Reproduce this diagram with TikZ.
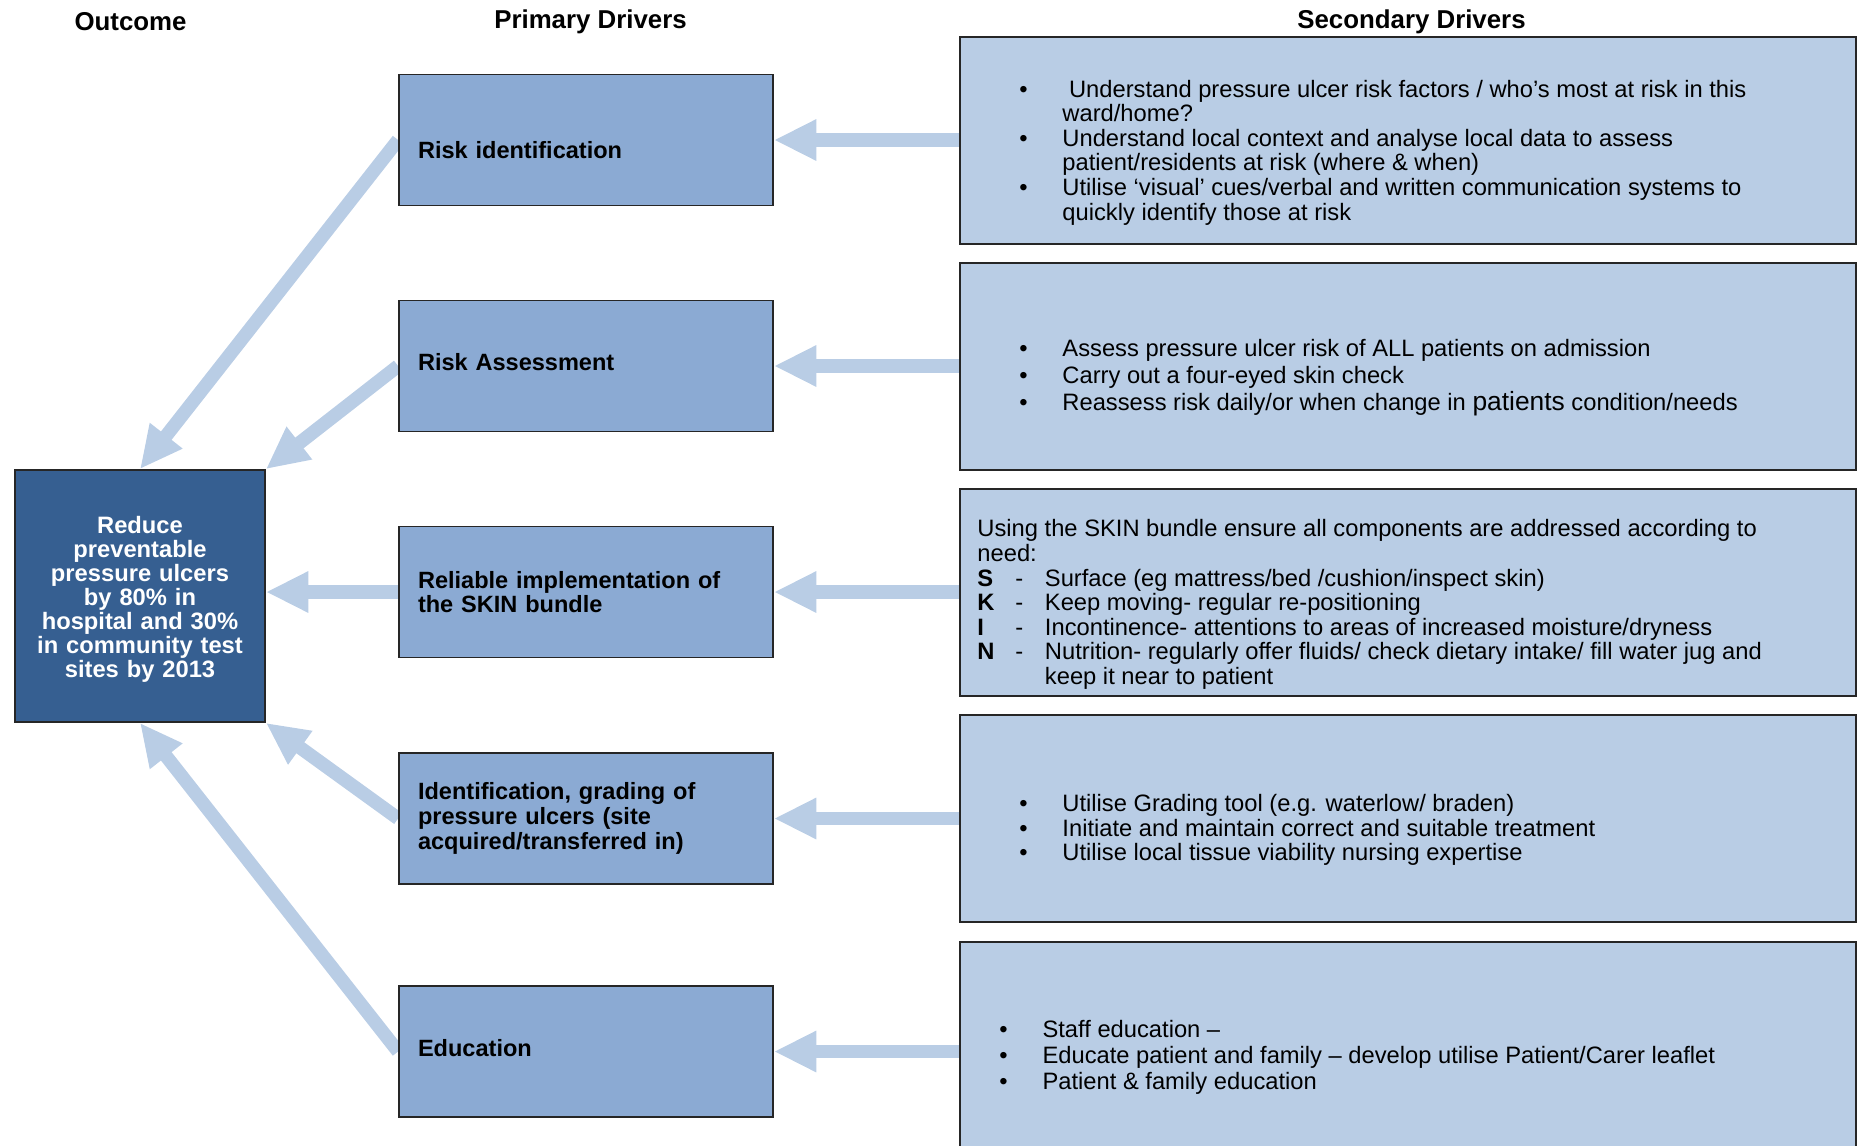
\documentclass[tikz,border=0pt]{standalone}
\usepackage{fontspec}
\setmainfont{Liberation Sans}
\usetikzlibrary{arrows.meta,backgrounds}

\definecolor{outcomeblue}{RGB}{54,95,145}
\definecolor{primaryblue}{RGB}{139,170,211}
\definecolor{secondaryblue}{RGB}{185,205,229}
\definecolor{arrowblue}{RGB}{185,205,229}

\newcommand{\bulitem}[1][0.86cm]{\makebox[#1][l]{\textbullet}}
\newcommand{\bulgap}[1][0.86cm]{\hspace*{#1}}
\newcommand{\skinrow}[1]{\makebox[0.76cm][l]{\textbf{#1}}\makebox[0.59cm][l]{-}}
\newcommand{\lowered}[2]{\raisebox{#1}[\height][\depth]{#2}}

\tikzset{
  header/.style={inner sep=0pt, font=\fontsize{14.7}{16}\selectfont\bfseries},
  outcomebox/.style={draw=black!85, line width=1pt, fill=outcomeblue, text=white,
    minimum width=5cm, minimum height=5.04cm, text width=4.6cm, inner sep=0pt,
    align=center, font=\fontsize{13.5}{13.7}\selectfont\bfseries},
  primarybox/.style={draw=black!85, line width=1pt, fill=primaryblue,
    minimum height=2.62cm, text width=6.72cm, inner xsep=0.38cm, inner ysep=0pt,
    align=left, font=\fontsize{13.4}{14}\selectfont\bfseries},
  secondarybox/.style={draw=black!85, line width=1pt, fill=secondaryblue,
    minimum width=17.92cm, minimum height=4.14cm, inner sep=0pt},
  secondarytext/.style={anchor=west, inner sep=0pt, align=left,
    font=\fontsize{13.5}{14}\selectfont},
  bigarrow/.style={draw=arrowblue, line width=0.27cm,
    -{Triangle[length=0.85cm, width=0.77cm]}}
}

\begin{document}
\begin{tikzpicture}
\useasboundingbox (0,0) rectangle (37.26,-22.92);

\node [header] at (2.61, -0.44) (outcomehead) {Outcome};
\node [header] at (11.81, -0.44) (primaryhead) {Primary Drivers};
\node [header] at (28.23, -0.44) (secondaryhead) {Secondary Drivers};

\node [outcomebox] at (2.80, -11.92) (outcome) {\lowered{-0.07cm}{Reduce}\\ \lowered{-0.07cm}{preventable}\\ \lowered{-0.07cm}{pressure ulcers}\\ \lowered{-0.07cm}{by 80\% in}\\ \lowered{-0.07cm}{hospital and 30\%}\\ \lowered{-0.07cm}{in community test}\\ \lowered{-0.07cm}{sites by 2013}};

\node [primarybox] at (11.72, -2.80) (riskid) {\lowered{-0.2cm}{Risk identification}};
\node [primarybox] at (11.72, -7.32) (riskass) {\lowered{0.08cm}{Risk Assessment}};
\node [primarybox] at (11.72, -11.84) (skin) {Reliable implementation of\\ the SKIN bundle};
\node [primarybox] at (11.72, -16.37) (grading) {Identification, grading of\\ pressure ulcers (site\\ acquired/transferred in)};
\node [primarybox] at (11.72, -21.03) (education) {\lowered{0.06cm}{Education}};

\node [secondarybox] at (28.16, -2.81) (riskidsec) {};
\node [secondarytext] at ([xshift=1.2cm, yshift=-0.24cm]riskidsec.west) (riskidtext) {%
\bulitem\ Understand pressure ulcer risk factors / who’s most at risk in this\\
\bulgap ward/home?\\
\bulitem Understand local context and analyse local data to assess\\
\bulgap patient/residents at risk (where \& when)\\
\bulitem Utilise ‘visual’ cues/verbal and written communication systems to\\
\bulgap quickly identify those at risk};

\node [secondarybox] at (28.16, -7.33) (riskasssec) {};
\node [secondarytext] at ([xshift=1.2cm, yshift=-0.22cm]riskasssec.west) (riskasstext) {%
\bulitem Assess pressure ulcer risk of ALL patients on admission\\[1.5pt]
\bulitem Carry out a four-eyed skin check\\[1.5pt]
\bulitem Reassess risk daily/or when change in {\fontsize{15}{14}\selectfont patients} condition/needs};

\node [secondarybox] at (28.16, -11.85) (skinsec) {};
\node [secondarytext] at ([xshift=0.36cm, yshift=-0.24cm]skinsec.west) (skintext) {%
Using the SKIN bundle ensure all components are addressed according to\\
need:\\
\skinrow{S}Surface (eg mattress/bed /cushion/inspect skin)\\
\skinrow{K}Keep moving- regular re-positioning\\
\skinrow{I}Incontinence- attentions to areas of increased moisture/dryness\\
\skinrow{N}Nutrition- regularly offer fluids/ check dietary intake/ fill water jug and\\
\hspace*{1.35cm}keep it near to patient};

\node [secondarybox] at (28.16, -16.37) (gradingsec) {};
\node [secondarytext] at ([xshift=1.2cm, yshift=-0.23cm]gradingsec.west) (gradingtext) {%
\bulitem Utilise Grading tool (e.g. waterlow/ braden)\\
\bulitem Initiate and maintain correct and suitable treatment\\
\bulitem Utilise local tissue viability nursing expertise};

\node [secondarybox] at (28.16, -20.91) (educationsec) {};
\node [secondarytext] at ([xshift=0.8cm, yshift=-0.23cm]educationsec.west) (educationtext) {%
\bulitem[0.73cm] Staff education –\\[0.8pt]
\bulitem[0.73cm] Educate patient and family – develop utilise Patient/Carer leaflet\\[0.8pt]
\bulitem[0.73cm] Patient \& family education};

\begin{scope}[on background layer]
\draw [bigarrow] (riskidsec.west |- riskid.east) -- (riskid.east);
\draw [bigarrow] (riskasssec.west |- riskass.east) -- (riskass.east);
\draw [bigarrow] (skinsec.west |- skin.east) -- (skin.east);
\draw [bigarrow] (gradingsec.west |- grading.east) -- (grading.east);
\draw [bigarrow] (educationsec.west |- education.east) -- (education.east);

\draw [bigarrow] (riskid.west) -- (outcome.north);
\draw [bigarrow] (riskass.west) -- (outcome.north east);
\draw [bigarrow] (skin.west) -- (skin.west -| outcome.east);
\draw [bigarrow] (grading.west) -- (outcome.south east);
\draw [bigarrow] (education.west) -- (outcome.south);
\end{scope}
\end{tikzpicture}
\end{document}
